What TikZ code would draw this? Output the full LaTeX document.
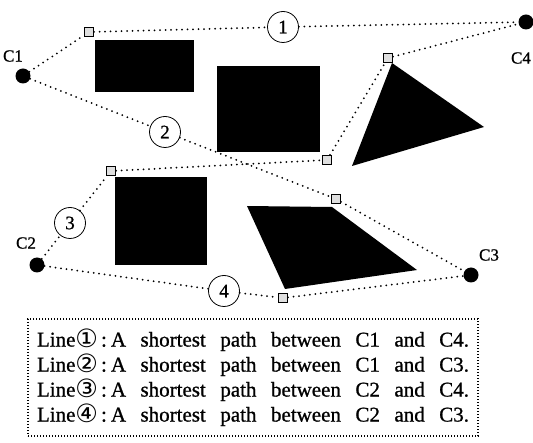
\documentclass[tikz,border=0pt]{standalone}
\usepackage{fontspec}
\setmainfont{Liberation Serif}
\newfontfamily\heavy[FakeBold=0.9]{Liberation Serif}
\newfontfamily\dejavu{DejaVu Sans}
\newcommand{\cnum}[1]{\raisebox{-1pt}{\scalebox{1.2}{\dejavu #1}}}
\begin{document}
\begin{tikzpicture}[x=1pt,y=-1pt,
 city/.style={circle,fill=black,minimum size=15pt,inner sep=0pt},
 via/.style={rectangle,draw=black,fill=gray!25,line width=1.1pt,minimum size=9pt,inner sep=0pt},
 tag/.style={circle,draw=black,line width=0.8pt,minimum size=31pt,inner sep=0pt,font=\fontsize{19}{19}\selectfont\heavy},
 route/.style={line width=2pt,line cap=round,dash pattern=on 0pt off 5.5pt},
 obst/.style={fill=black},
 clabel/.style={font=\fontsize{17}{17}\selectfont\heavy}
]
\useasboundingbox (0,0) rectangle (533,443);
% obstacles
\fill[obst] (95,40) rectangle (194,92);
\fill[obst] (217,66) rectangle (320,152);
\fill[obst] (392,63) -- (484,127) -- (352,166) -- cycle;
\fill[obst] (115,177) rectangle (207,265);
\fill[obst] (247,206) -- (332,207) -- (417,270) -- (285,289) -- cycle;
% cities
\node[city] (c1) at (23,76) {};
\node[city] (c2) at (37,265) {};
\node[city] (c3) at (471,275) {};
\node[city] (c4) at (526,22) {};
\node[clabel] (l1) at (13,56) {C1};
\node[clabel] (l2) at (26,243) {C2};
\node[clabel] (l3) at (489,255) {C3};
\node[clabel] (l4) at (521,58) {C4};
% via points
\node[via] (s1) at (89,32) {};
\node[via] (s2) at (111,171) {};
\node[via] (s3) at (336,199) {};
\node[via] (s4) at (388,58) {};
\node[via] (s5) at (327,160) {};
\node[via] (s6) at (283,298) {};
% tags
\node[tag] (t1) at (283,27) {1};
\node[tag] (t2) at (165,132) {2};
\node[tag] (t3) at (70,223) {3};
\node[tag] (t4) at (224,291) {4};
% routes
\draw[route] (c1) -- (s1) -- (t1) -- (c4);
\draw[route] (c1) -- (t2) -- (s3) -- (c3);
\draw[route] (c2) -- (t3) -- (s2) -- (s5) -- (s4) -- (c4);
\draw[route] (c2) -- (t4) -- (s6) -- (c3);
% legend
\node[draw=black,line width=1.1pt,dash pattern=on 1pt off 2pt,minimum width=450pt,minimum height=117pt,inner sep=0pt,
  font=\fontsize{21}{25}\selectfont\heavy,align=left] (legend) at (253,377.5)
 {\makebox[432pt][s]{Line\cnum{①}\hspace{3pt}:\hspace{4pt}A shortest path between C1 and C4.}\\
  \makebox[432pt][s]{Line\cnum{②}\hspace{3pt}:\hspace{4pt}A shortest path between C1 and C3.}\\
  \makebox[432pt][s]{Line\cnum{③}\hspace{3pt}:\hspace{4pt}A shortest path between C2 and C4.}\\
  \makebox[432pt][s]{Line\cnum{④}\hspace{3pt}:\hspace{4pt}A shortest path between C2 and C3.}};
\end{tikzpicture}
\end{document}
